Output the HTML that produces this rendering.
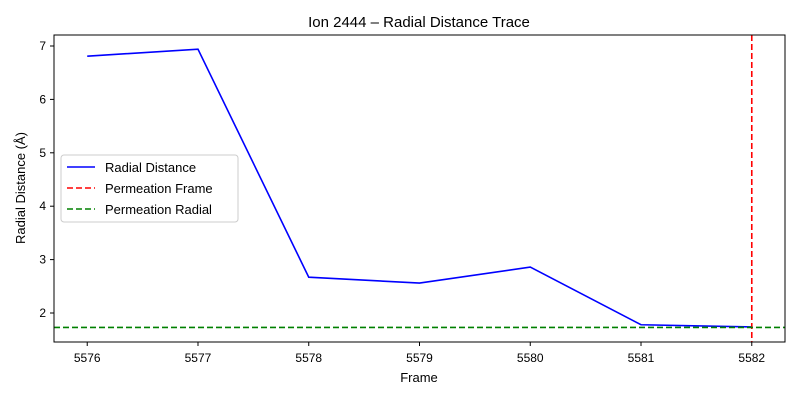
<!DOCTYPE html>
<html><head><meta charset="utf-8"><style>
body{margin:0;background:#fff;}
svg text{font-family:"Liberation Sans","DejaVu Sans",sans-serif;fill:#000;}
</style></head><body>
<svg id="chart" width="800" height="400" xmlns="http://www.w3.org/2000/svg">
<rect width="800" height="400" fill="#fff"/>
<text x="419" y="27" font-size="15" text-anchor="middle">Ion 2444 – Radial Distance Trace</text>
<g id="plot"></g>
<text x="419" y="382" font-size="13" text-anchor="middle">Frame</text>
<text transform="translate(25,188) rotate(-90)" font-size="13" text-anchor="middle">Radial Distance (Å)</text>
<g>
<rect x="61" y="155" width="177" height="67" fill="#fff" stroke="#ccc" rx="3"/>
<line x1="67" y1="167" x2="95" y2="167" stroke="#0000ff" stroke-width="1.6"/>
<text x="105" y="172" font-size="13">Radial Distance</text>
<line x1="67" y1="188" x2="95" y2="188" stroke="#ff0000" stroke-width="1.6" stroke-dasharray="6,3"/>
<text x="105" y="193" font-size="13">Permeation Frame</text>
<line x1="67" y1="209" x2="95" y2="209" stroke="#008000" stroke-width="1.6" stroke-dasharray="6,3"/>
<text x="105" y="214" font-size="13">Permeation Radial</text>
</g>
</svg>
<script>
const frames=[5576,5577,5578,5579,5580,5581,5582];
const radial=[6.81,6.94,2.67,2.56,2.86,1.78,1.74];
const permeationFrame=5582;
const permeationRadial=1.73;
const yTicks=[2,3,4,5,6,7];
const L=54,R=785,T=35,B=342;
const xMin=5575.7,xMax=5582.3,yMin=1.457,yMax=7.206;
const xs=v=>L+(v-xMin)/(xMax-xMin)*(R-L);
const ys=v=>B-(v-yMin)/(yMax-yMin)*(B-T);
const NS="http://www.w3.org/2000/svg";
const g=document.getElementById('plot');
function mk(t,a){const e=document.createElementNS(NS,t);for(const k in a)e.setAttribute(k,a[k]);g.appendChild(e);return e;}
frames.forEach(f=>{
 const x=xs(f);
 const t=mk('line',{x1:x,x2:x,y1:B,y2:B+4,stroke:'#000'});
 
 
 const l=mk('text',{x:x,y:B+20,'font-size':12,'text-anchor':'middle'});l.textContent=f;
 
 
});
yTicks.forEach(v=>{
 const y=ys(v);
 const t=mk('line',{x1:L-4,x2:L,y1:y,y2:y,stroke:'#000'});
 
 
 const l=mk('text',{x:L-8,y:y+4,'font-size':12,'text-anchor':'end'});l.textContent=v;
 
 
});
const p=mk('polyline',{points:frames.map((f,i)=>xs(f)+','+ys(radial[i])).join(' '),fill:'none',stroke:'#0000ff','stroke-width':1.6});


const vr=mk('line',{x1:xs(permeationFrame),x2:xs(permeationFrame),y1:T,y2:B,stroke:'#ff0000','stroke-width':1.6,'stroke-dasharray':'6,3'});


const hg=mk('line',{x1:L,x2:R,y1:ys(permeationRadial),y2:ys(permeationRadial),stroke:'#008000','stroke-width':1.6,'stroke-dasharray':'6,3'});


const fr=mk('rect',{x:L,y:T,width:R-L,height:B-T,fill:'none',stroke:'#000'});


</script>
</body></html>
